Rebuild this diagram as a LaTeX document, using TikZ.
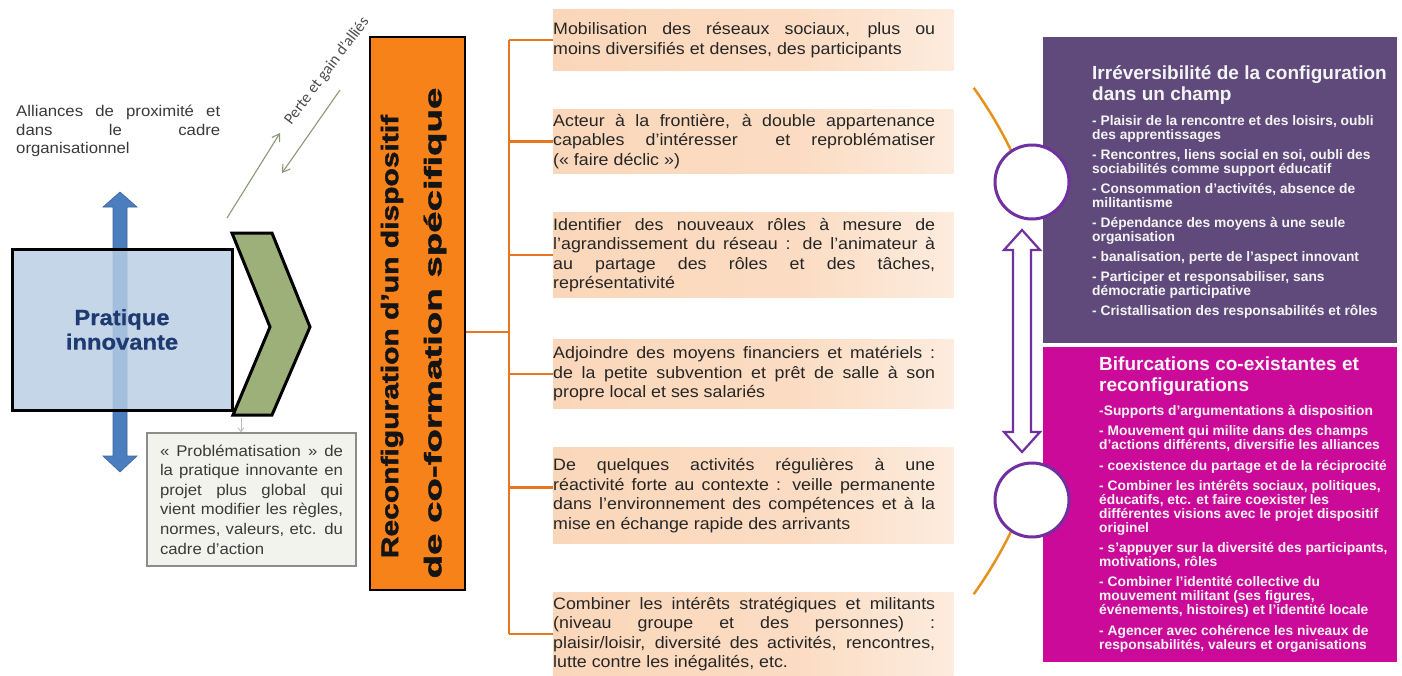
\documentclass[tikz,border=0pt]{standalone}
\usepackage{graphicx}
\usepackage{fontspec}
\setmainfont{Liberation Sans}
\newfontfamily\widefont[FakeStretch=1.08]{Liberation Sans}
\newfontfamily\heavyfont[FakeBold=1.6]{Liberation Sans Bold}
\newfontfamily\widebold[FakeStretch=1.08,FakeBold=0.8]{Liberation Sans Bold}
\newfontfamily\rbold{Liberation Sans Bold}
\newfontfamily\calib{Carlito}
\usetikzlibrary{arrows.meta,backgrounds,calc}
\definecolor{peach}{HTML}{FAD3B3}
\definecolor{obar}{HTML}{F8821A}
\definecolor{olinec}{HTML}{E8761E}
\definecolor{arcor}{HTML}{E8901C}
\definecolor{purp}{HTML}{5F4A7B}
\definecolor{magen}{HTML}{CC0A99}
\definecolor{circc}{HTML}{7030A0}
\definecolor{navy}{HTML}{1F3A70}
\definecolor{rectblue}{HTML}{B9CDE5}
\definecolor{arrblue}{HTML}{4A7EBF}
\definecolor{chev}{HTML}{9DB07A}
\definecolor{glinec}{HTML}{8A9878}
\definecolor{txtc}{HTML}{262626}
\definecolor{txtc2}{HTML}{3A3A3A}
\definecolor{rtext}{HTML}{F4F4F4}
\definecolor{probfill}{HTML}{F3F3EE}
\definecolor{probdraw}{HTML}{8C8C8C}
\definecolor{pertec}{HTML}{4D4D4D}
\pgfdeclarehorizontalshading{peachfade}{100bp}{color(0bp)=(peach); color(55bp)=(peach!80!white); color(100bp)=(white)}
\newcommand{\JL}[2]{\makebox[#1][s]{#2}}
\begin{document}
\begin{tikzpicture}[x=1pt,y=-1pt,
  itembox/.style={anchor=west, inner xsep=0pt, inner ysep=0pt, align=left, text=txtc,
    font=\widefont\fontsize{16.5}{19.5}\selectfont},
  obranch/.style={draw=olinec, line width=2.5pt},
  rtitle/.style={anchor=west, inner sep=0pt, align=left, text=rtext,
    font=\rbold\fontsize{19}{20.5}\selectfont},
  ritems/.style={anchor=west, inner sep=0pt, align=left, text=rtext,
    font=\rbold\fontsize{13.8}{14.3}\selectfont},
  gconn/.style={draw=glinec, line width=1.1pt, -{Straight Barb[length=7pt,width=9pt]}},
  ring/.style={circle, draw=circc, line width=3pt, fill=white, minimum size=74pt, inner sep=0pt}
]
\useasboundingbox (0,0) rectangle (1402,675);
\begin{scope}[on background layer]
  \fill[white] (0,0) rectangle (1402,675);
\end{scope}

% ---------- left part ----------
\node[anchor=west, inner sep=0pt, align=left, text=txtc2,
  font=\widefont\fontsize{15.5}{18.7}\selectfont] (al) at (16,131)
  {\JL{204pt}{Alliances de proximité et}\\\JL{204pt}{dans le cadre}\\organisationnel};

% blue two-headed block arrow
\filldraw[fill=arrblue, draw=arrblue!80!black, line width=0.6pt]
  (113,207) -- (103,207) -- (120,192) -- (137,207) -- (127,207) -- (127,456)
  -- (137,456) -- (120,472) -- (103,456) -- (113,456) -- cycle;

\node[draw=black, line width=3pt, fill=rectblue, fill opacity=0.82, text opacity=1,
  minimum width=220pt, minimum height=161pt, align=center, text=navy,
  font=\widebold\fontsize{22}{24.5}\selectfont] (pi) at (122,329.5)
  {Pratique\\innovante};

% chevron
\filldraw[fill=chev, draw=black, line width=3pt, line join=miter]
  (232,233) -- (272,233) -- (310,327) -- (272,415) -- (233,415) -- (270,327) -- cycle;

\node[draw=probdraw, line width=1.2pt, fill=probfill, minimum width=209pt, minimum height=133pt,
  inner xsep=13pt, align=left, text=txtc2,
  font=\widefont\fontsize{15.5}{19.6}\selectfont] (pb) at (251.5,499.5)
  {\JL{183pt}{« Problématisation » de}\\\JL{183pt}{la pratique innovante en}\\
   \JL{183pt}{projet plus global qui}\\\JL{183pt}{vient modifier les règles,}\\
   \JL{183pt}{normes, valeurs, etc. du}\\cadre d’action};

\coordinate (chb) at (241,418);
\draw[draw=gray!55, line width=0.8pt, -{Straight Barb[length=4pt,width=6pt]}] (chb) -- (chb |- pb.north);

% perte et gain
\coordinate (a1s) at (227,218); \coordinate (a1e) at (280,133);
\coordinate (a2s) at (340,90);  \coordinate (a2e) at (282,173);
\draw[gconn] (a1s) -- (a1e);
\draw[gconn] (a2s) -- (a2e);
\node[rotate=53, inner sep=0pt, text=pertec, font=\calib\fontsize{16}{17}\selectfont] (perte) at (327,71)
  {Perte et gain d’alliés};

% ---------- orange bar ----------
\node[draw=black, line width=2pt, fill=obar, minimum width=95pt, minimum height=553pt, inner sep=0pt]
  (ob) at (417.5,313.5) {};
\node[rotate=90, inner sep=0pt, text=black!92, font=\heavyfont\fontsize{24}{26}\selectfont] (obt1) at (392,336.5)
  {\scalebox{1.25}[1]{Reconfiguration d’un dispositif}};
\node[rotate=90, inner sep=0pt, text=black!92, font=\heavyfont\fontsize{24}{26}\selectfont] (obt2) at (435,333)
  {\scalebox{1.6}[1]{de co-formation spécifique}};

% ---------- middle items ----------
\node[itembox, minimum height=60pt] (t1) at (553,40)
  {\JL{382pt}{Mobilisation des réseaux sociaux, plus ou}\\moins diversifiés et denses, des participants};
\node[itembox, minimum height=63pt] (t2) at (553,141.5)
  {\JL{382pt}{Acteur à la frontière, à double appartenance}\\\JL{382pt}{capables d’intéresser \quad et reproblématiser}\\(« faire déclic »)};
\node[itembox, minimum height=84pt] (t3) at (553,255)
  {\JL{382pt}{Identifier des nouveaux rôles à mesure de}\\\JL{382pt}{l’agrandissement du réseau : de l’animateur à}\\\JL{382pt}{au partage des rôles et des tâches,}\\représentativité};
\node[itembox, minimum height=68pt] (t4) at (553,374)
  {\JL{382pt}{Adjoindre des moyens financiers et matériels :}\\\JL{382pt}{de la petite subvention et prêt de salle à son}\\propre local et ses salariés};
\node[itembox, minimum height=95pt] (t5) at (553,495.5)
  {\JL{382pt}{De quelques activités régulières à une}\\\JL{382pt}{réactivité forte au contexte : veille permanente}\\\JL{382pt}{dans l’environnement des compétences et à la}\\mise en échange rapide des arrivants};
\node[itembox, minimum height=82pt] (t6) at (553,634)
  {\JL{382pt}{Combiner les intérêts stratégiques et militants}\\\JL{382pt}{(niveau groupe et des personnes) :}\\\JL{382pt}{plaisir/loisir, diversité des activités, rencontres,}\\lutte contre les inégalités, etc.};

\begin{scope}[on background layer]
  \foreach \t in {t1,t2,t3,t4,t5,t6}{
    \shade[shading=peachfade] (\t.north west) rectangle ([xshift=18pt]\t.south east);
  }
\end{scope}

% orange connectors
\coordinate (tr) at (509,332);
\coordinate (t5b) at ([yshift=8pt]t5.west);
\draw[obranch] (ob.east |- tr) -- (tr);
\draw[obranch] (tr |- t1.west) -- (tr |- t6.west);
\foreach \t in {t1,t2,t3,t4,t6}{
  \draw[obranch] (tr |- \t.west) -- (\t.west);
}
\draw[obranch] (tr |- t5b) -- (t5b);

% ---------- right part ----------
\node[fill=purp, minimum width=354pt, minimum height=306pt, inner sep=0pt] (pbox) at (1220,190) {};
\node[fill=magen, minimum width=354pt, minimum height=315pt, inner sep=0pt] (mbox) at (1220,504.5) {};

\draw[draw=arcor, line width=2.5pt] (973.7,87.8) arc[start angle=-35.6, end angle=-21, radius=435];
\draw[draw=arcor, line width=2.5pt] (1026.1,496.9) arc[start angle=21, end angle=35.6, radius=435];

\node[ring] (c1) at (1032,182) {};
\node[ring] (c2) at (1032,500) {};

\filldraw[fill=white, draw=circc, line width=2.2pt, line join=miter]
  (1022,230) -- (1040,250) -- (1031,250) -- (1031,432) -- (1040,432) -- (1022,452)
  -- (1004,432) -- (1013,432) -- (1013,250) -- (1004,250) -- cycle;

\node[rtitle] (ptit) at (1092,85) {Irréversibilité de la configuration\\dans un champ};
\node[ritems] (pit) at (1092,216.7)
  {- Plaisir de la rencontre et des loisirs, oubli\\des apprentissages\\[5.5pt]
   - Rencontres, liens social en soi, oubli des\\sociabilités comme support éducatif\\[5.5pt]
   - Consommation d’activités, absence de\\militantisme\\[5.5pt]
   - Dépendance des moyens à une seule\\organisation\\[5.5pt]
   - banalisation, perte de l’aspect innovant\\[5.5pt]
   - Participer et responsabiliser, sans\\démocratie participative\\[5.5pt]
   - Cristallisation des responsabilités et rôles};

\node[rtitle] (mtit) at (1099,376) {Bifurcations co-existantes et\\reconfigurations};
\node[ritems, font=\rbold\fontsize{13.8}{14}\selectfont] (mit) at (1099,528.7)
  {-Supports d’argumentations à disposition\\[6.3pt]
   - Mouvement qui milite dans des champs\\d’actions différents, diversifie les alliances\\[6.3pt]
   - coexistence du partage et de la réciprocité\\[6.3pt]
   - Combiner les intérêts sociaux, politiques,\\éducatifs, etc. et faire coexister les\\différentes visions avec le projet dispositif\\originel\\[6.3pt]
   - s’appuyer sur la diversité des participants,\\motivations, rôles\\[6.3pt]
   - Combiner l’identité collective du\\mouvement militant (ses figures,\\événements, histoires) et l’identité locale\\[6.3pt]
   - Agencer avec cohérence les niveaux de\\responsabilités, valeurs et organisations};
\end{tikzpicture}
\end{document}
